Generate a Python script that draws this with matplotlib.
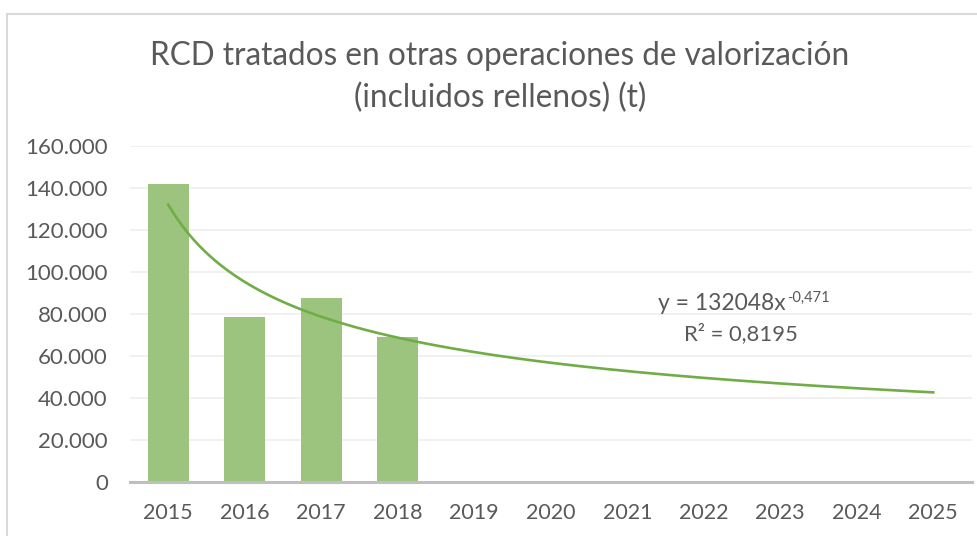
import matplotlib
matplotlib.use("Agg")
import matplotlib.pyplot as plt
import numpy as np
from matplotlib.patches import Rectangle

# ---- data ----
years = ["2015", "2016", "2017", "2018", "2019", "2020", "2021", "2022", "2023", "2024", "2025"]
bar_values = [142000, 78500, 87500, 69000]
trend_coef = 132048
trend_exp = -0.471
r_squared_text = "R² = 0,8195"
eq_main_text = "y = 132048x"
eq_exp_text = "-0,471"
y_ticks = [0, 20000, 40000, 60000, 80000, 100000, 120000, 140000, 160000]
y_tick_labels = ["0", "20.000", "40.000", "60.000", "80.000", "100.000", "120.000", "140.000", "160.000"]
title_lines = ["RCD tratados en otras operaciones de valorización", "(incluidos rellenos) (t)"]

TEXT = "#595959"
BAR = "#9CC47E"
LINE = "#70AD47"
FONT = ["Lato", "DejaVu Sans"]

plt.rcParams["font.family"] = FONT

W, H = 978, 536
fig = plt.figure(figsize=(W / 100, H / 100), dpi=100)
fig.patch.set_facecolor("white")


def fx(px):
    return px / W


def fy(py):
    return 1 - py / H


# chart border
fig.patches.append(Rectangle((fx(7), -0.2), 2.0, fy(14) + 0.2,
                             transform=fig.transFigure, fill=False,
                             edgecolor="#D9D9D9", linewidth=1.5))

ax = fig.add_axes([fx(130), fy(482), fx(971.5 - 130), (482 - 146) / H])

x_all = np.arange(1, len(years) + 1)
ax.bar(x_all[:len(bar_values)], bar_values, width=0.54, color=BAR, zorder=2)

trend_x = np.linspace(1, len(years), 300)
ax.plot(trend_x, trend_coef * trend_x ** trend_exp, color=LINE, linewidth=1.9, zorder=3)

ax.set_xlim(0.5, len(years) + 0.5)
ax.set_ylim(0, 160000)
ax.set_xticks(x_all)
ax.set_xticklabels(years)
ax.set_yticks(y_ticks)
ax.set_yticklabels(y_tick_labels)
ax.tick_params(axis="both", length=0, labelcolor=TEXT)
ax.tick_params(axis="y", pad=16, labelsize=16)
ax.tick_params(axis="x", pad=15, labelsize=15.5)

for s in ["top", "right", "left"]:
    ax.spines[s].set_visible(False)
ax.spines["bottom"].set_color("#BFBFBF")
ax.spines["bottom"].set_linewidth(2.2)
ax.spines["bottom"].set_zorder(4)
ax.grid(axis="y", color="#EFEFEF", linewidth=1.2, zorder=0)
ax.set_axisbelow(True)

fig.text(fx(500), fy(56), title_lines[0], ha="center", va="center",
         fontsize=22.7, color=TEXT)
fig.text(fx(500), fy(98), title_lines[1], ha="center", va="center",
         fontsize=22.7, color=TEXT)

t_eq = fig.text(fx(658), fy(310), eq_main_text, ha="left", va="baseline",
                fontsize=16.5, color=TEXT)
renderer = fig.canvas.get_renderer()
bb = t_eq.get_window_extent(renderer=renderer)
fig.text(bb.x1 / W + fx(1), fy(302), eq_exp_text, ha="left", va="baseline",
         fontsize=10.5, color=TEXT)
fig.text(fx(741), fy(340), r_squared_text, ha="center", va="baseline",
         fontsize=15.8, color=TEXT)

fig.savefig("out.png", dpi=100, facecolor="white")
